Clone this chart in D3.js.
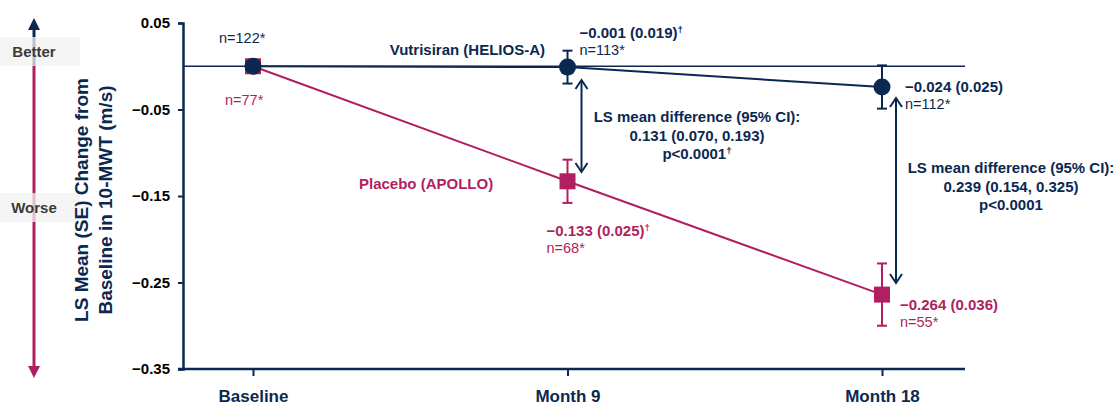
<!DOCTYPE html>
<html>
<head>
<meta charset="utf-8">
<script src="https://cdn.jsdelivr.net/npm/d3@7"></script>
<style>
  body { margin: 0; background: #fff; }
  svg { font-family: "Liberation Sans", Arial, sans-serif; }
</style>
</head>
<body>
<div id="chart"></div>
<script>
const visits = ["Baseline", "Month 9", "Month 18"]
const yTicks = [0.05, -0.05, -0.15, -0.25, -0.35]

const vutMean = [0, -0.001, -0.024]
const vutSE = [null, 0.019, 0.025]
const vutN = ["n=122*", "n=113*", "n=112*"]
const vutLabel = [null, "\u22120.001 (0.019)\u2020", "\u22120.024 (0.025)"]

const plaMean = [0, -0.133, -0.264]
const plaSE = [null, 0.025, 0.036]
const plaN = ["n=77*", "n=68*", "n=55*"]
const plaLabel = [null, "\u22120.133 (0.025)\u2020", "\u22120.264 (0.036)"]

const diffVisits = ["Month 9", "Month 18"]
const diffText = [
    ["LS mean difference (95% CI):", "0.131 (0.070, 0.193)", "p<0.0001\u2020"],
    ["LS mean difference (95% CI):", "0.239 (0.154, 0.325)", "p<0.0001"]
]

const navy = "#0b2850"
const magenta = "#b01f60"
const width = 1118
const height = 407

const svg = d3.select("#chart").append("svg")
    .attr("width", width)
    .attr("height", height)

const x = d3.scalePoint().domain(visits).range([253, 882])
const y = d3.scaleLinear().domain([-0.35, 0.05]).range([369, 23])

// write text, with a trailing dagger set as superscript
function withDagger(sel, s) {
    if (s.endsWith("\u2020")) {
        sel.append("tspan").text(s.slice(0, -1))
        sel.append("tspan").attr("font-size", "0.65em").attr("dy", "-0.55em").text("\u2020")
    } else {
        sel.append("tspan").text(s)
    }
}

// better / worse arrow
const defs = svg.append("defs")
function head(id, color) {
    defs.append("marker")
        .attr("id", id)
        .attr("viewBox", "0 0 10 10")
        .attr("refX", 5).attr("refY", 5)
        .attr("markerWidth", 4).attr("markerHeight", 4)
        .attr("orient", "auto-start-reverse")
        .append("path")
        .attr("d", "M0,0 L10,5 L0,10 z")
        .attr("fill", color)
}
head("upHead", navy)
head("downHead", magenta)

svg.append("line")
    .attr("x1", 34).attr("x2", 34)
    .attr("y1", 66).attr("y2", 24)
    .attr("stroke", navy).attr("stroke-width", 3)
    .attr("marker-end", "url(#upHead)")
svg.append("line")
    .attr("x1", 34).attr("x2", 34)
    .attr("y1", 66).attr("y2", 372)
    .attr("stroke", magenta).attr("stroke-width", 3)
    .attr("marker-end", "url(#downHead)")

const tags = [["Better", 37], ["Worse", 193]]
tags.forEach(([t, top]) => {
    svg.append("rect")
        .attr("x", 0).attr("y", top)
        .attr("width", 80).attr("height", 29)
        .attr("fill", "#f2f2f2").attr("opacity", 0.75)
    svg.append("text")
        .attr("x", 34).attr("y", top + 20)
        .attr("text-anchor", "middle")
        .attr("font-size", 15).attr("font-weight", "bold")
        .attr("fill", "#3a3a3a")
        .text(t)
})

// y axis title
const title = svg.append("text")
    .attr("transform", "translate(93,200) rotate(-90)")
    .attr("text-anchor", "middle")
    .attr("font-size", 19).attr("font-weight", "bold")
    .attr("fill", navy)
title.append("tspan").attr("x", 0).attr("dy", "-0.25em").text("LS Mean (SE) Change from")
title.append("tspan").attr("x", 0).attr("dy", "1.25em").text("Baseline in 10-MWT (m/s)")

// axes
const yAxis = svg.append("g")
    .attr("transform", "translate(183,0)")
    .call(d3.axisLeft(y).tickValues(yTicks).tickFormat(d3.format(".2f")).tickSize(5).tickPadding(8))
yAxis.select(".domain").attr("stroke", navy).attr("stroke-width", 2.5)
yAxis.selectAll(".tick line").attr("stroke", navy).attr("stroke-width", 2)
yAxis.selectAll(".tick text")
    .attr("font-size", 15).attr("font-weight", "bold").attr("fill", "#000")
    .attr("font-family", "Liberation Sans, Arial, sans-serif")

const xAxis = svg.append("g")
    .attr("transform", `translate(0,${y(-0.35)})`)
    .call(d3.axisBottom(x).tickSize(7).tickPadding(14).tickSizeOuter(0))
xAxis.select(".domain").attr("d", `M178,0H965`).attr("stroke", navy).attr("stroke-width", 2.5)
xAxis.selectAll(".tick line").attr("stroke", navy).attr("stroke-width", 2)
xAxis.selectAll(".tick text")
    .attr("font-size", 17).attr("font-weight", "bold").attr("fill", navy)
    .attr("font-family", "Liberation Sans, Arial, sans-serif")

// zero line
svg.append("line")
    .attr("x1", 183).attr("x2", 965)
    .attr("y1", y(0)).attr("y2", y(0))
    .attr("stroke", navy).attr("stroke-width", 1.5)

const line = d3.line().x((d, i) => x(visits[i])).y(d => y(d))

function series(mean, se, color) {
    svg.append("path")
        .datum(mean)
        .attr("d", line)
        .attr("fill", "none")
        .attr("stroke", color)
        .attr("stroke-width", 2)
    const g = svg.append("g")
    mean.forEach((m, i) => {
        if (se[i] == null) return
        const cx = x(visits[i])
        g.append("line")
            .attr("x1", cx).attr("x2", cx)
            .attr("y1", y(m + se[i])).attr("y2", y(m - se[i]))
            .attr("stroke", color).attr("stroke-width", 2)
        ;[m + se[i], m - se[i]].forEach(v => {
            g.append("line")
                .attr("x1", cx - 5).attr("x2", cx + 5)
                .attr("y1", y(v)).attr("y2", y(v))
                .attr("stroke", color).attr("stroke-width", 2)
        })
    })
}
series(plaMean, plaSE, magenta)
series(vutMean, vutSE, navy)

svg.selectAll(".sq")
    .data(plaMean)
    .join("rect")
    .attr("x", (d, i) => x(visits[i]) - 8)
    .attr("y", d => y(d) - 8)
    .attr("width", 16).attr("height", 16)
    .attr("fill", magenta)
svg.selectAll(".dot")
    .data(vutMean)
    .join("circle")
    .attr("cx", (d, i) => x(visits[i]))
    .attr("cy", d => y(d))
    .attr("r", 8.5)
    .attr("fill", navy)

// series names
svg.append("text")
    .attr("x", 545).attr("y", 55)
    .attr("text-anchor", "end")
    .attr("font-size", 15).attr("font-weight", "bold").attr("fill", navy)
    .text("Vutrisiran (HELIOS-A)")
svg.append("text")
    .attr("x", 359).attr("y", 189)
    .attr("font-size", 15).attr("font-weight", "bold").attr("fill", magenta)
    .text("Placebo (APOLLO)")

// value labels
function label(px, py, txt, color, bold) {
    const t = svg.append("text")
        .attr("x", px).attr("y", py)
        .attr("font-size", bold ? 15 : 14.5)
        .attr("font-weight", bold ? "bold" : "normal")
        .attr("fill", color)
    withDagger(t, txt)
}
label(x(visits[0]) - 34, 43, vutN[0], navy, false)
label(x(visits[0]) - 28, 105, plaN[0], magenta, false)

label(x(visits[1]) + 12, 38, vutLabel[1], navy, true)
label(x(visits[1]) + 12, 55, vutN[1], navy, false)
label(x(visits[2]) + 23, 92, vutLabel[2], navy, true)
label(x(visits[2]) + 23, 109, vutN[2], navy, false)

label(x(visits[1]) - 21, 236, plaLabel[1], magenta, true)
label(x(visits[1]) - 21, 253, plaN[1], magenta, false)
label(x(visits[2]) + 18, 310, plaLabel[2], magenta, true)
label(x(visits[2]) + 18, 327, plaN[2], magenta, false)

// difference arrows
const arrowSpan = [[80, 172], [98, 283]]
const textCenter = [[697, 122], [1011, 173]]
diffVisits.forEach((v, k) => {
    const ax = x(v) + 14
    const [top, bot] = arrowSpan[k]
    svg.append("line")
        .attr("x1", ax).attr("x2", ax)
        .attr("y1", top + 1).attr("y2", bot - 1)
        .attr("stroke", navy).attr("stroke-width", 2)
    svg.append("path")
        .attr("d", `M${ax - 6},${top + 9} L${ax},${top} L${ax + 6},${top + 9}`)
        .attr("fill", "none").attr("stroke", navy).attr("stroke-width", 2)
    svg.append("path")
        .attr("d", `M${ax - 6},${bot - 9} L${ax},${bot} L${ax + 6},${bot - 9}`)
        .attr("fill", "none").attr("stroke", navy).attr("stroke-width", 2)
    diffText[k].forEach((s, j) => {
        const t = svg.append("text")
            .attr("x", textCenter[k][0])
            .attr("y", textCenter[k][1] + j * 18.5)
            .attr("text-anchor", "middle")
            .attr("font-size", 15).attr("font-weight", "bold").attr("fill", navy)
        withDagger(t, s)
    })
})
</script>
</body>
</html>
